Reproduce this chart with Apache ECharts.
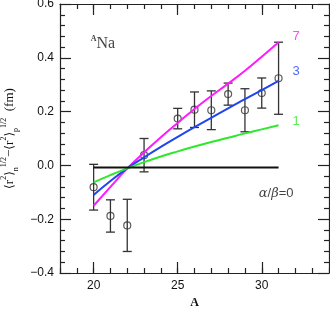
<!DOCTYPE html>
<html>
<head>
<meta charset="utf-8">
<script src="https://cdn.jsdelivr.net/npm/echarts@6/dist/echarts.min.js"></script>
<style>
html,body{margin:0;padding:0;background:#fff;}
#wrap{position:relative;width:330px;height:310px;}
#c,#f{position:absolute;left:0;top:0;width:330px;height:310px;}
#f{pointer-events:none;}
</style>
</head>
<body>
<div id="wrap"><div id="c"></div><div id="f"></div></div>
<script>
// ---- data ----
const pointA = [20, 21, 22, 23, 25, 26, 27, 28, 29, 30, 31];
const pointVal = [-0.081, -0.188, -0.223, 0.038, 0.174, 0.207, 0.205, 0.265, 0.205, 0.269, 0.324];
const pointErr = [0.085, 0.060, 0.097, 0.062, 0.038, 0.066, 0.072, 0.041, 0.080, 0.056, 0.134];

const curveA = [20, 21, 22, 23, 24, 25, 26, 27, 28, 29, 30, 31];
const curve7 = [-0.150, -0.080, -0.011, 0.048, 0.105, 0.158, 0.210, 0.258, 0.304, 0.352, 0.404, 0.458];
const curve3 = [-0.110, -0.058, -0.011, 0.030, 0.069, 0.106, 0.142, 0.177, 0.212, 0.246, 0.280, 0.314];
const curve1 = [-0.063, -0.036, -0.011, 0.012, 0.033, 0.052, 0.070, 0.087, 0.103, 0.119, 0.134, 0.149];

const flatA = [20, 31];
const flatVal = [-0.008, -0.008];

const xMajorTicks = [20, 25, 30];
const xMinorTicks = [18, 19, 20, 21, 22, 23, 24, 25, 26, 27, 28, 29, 30, 31, 32, 33, 34];

const curveLabels = ['7', '3', '1'];
const curveLabelA = [32.05, 32.05, 32.05];
const curveLabelVal = [0.481, 0.348, 0.162];

const colMag = '#ff1aff', colBlue = '#1f45f0', colGreen = '#2ee82e';
const curveColors = [colMag, colBlue, colGreen];

const zip = (xs, ys) => xs.map((x, i) => [x, ys[i]]);
const gridBox = {left: 60, right: 1, top: 4, bottom: 37, outerBoundsMode: 'none'};

// ---------- main chart: data, labels, names ----------
const chart = echarts.init(document.getElementById('c'));
const xLabelAx = {
  type: 'value', position: 'bottom', min: 18, max: 34, interval: 1,
  axisLine: {show: false, onZero: false}, axisTick: {show: false},
  axisLabel: {show: true, customValues: xMajorTicks, margin: 7,
    fontFamily: 'Liberation Sans', fontSize: 12, color: '#111'},
  splitLine: {show: false},
  name: 'A', nameLocation: 'middle', nameGap: 21,
  nameTextStyle: {fontFamily: 'Liberation Serif', fontWeight: 'bold', fontSize: 12, color: '#111'}
};
const yLabelAx = {
  type: 'value', position: 'left', min: -0.4, max: 0.6, interval: 0.2,
  axisLine: {show: false, onZero: false}, axisTick: {show: false},
  axisLabel: {show: true, margin: 6, fontFamily: 'Liberation Sans', fontSize: 12, color: '#111',
    formatter: v => v.toFixed(1).replace('-', '\u2212')},
  splitLine: {show: false},
  name: '{k|\u27e8}{t|r}{s|2}{k|\u27e9}{b|n}{s|1/2}{t|\u2212}{k|\u27e8}{t|r}{s|2}{k|\u27e9}{b|p}{s|1/2}{t|  (fm)}',
  nameLocation: 'middle', nameGap: 39, nameRotate: 90,
  nameTextStyle: {
    rich: {
      k: {fontFamily: 'DejaVu Sans', fontSize: 12, lineHeight: 20, color: '#111', verticalAlign: 'middle'},
      t: {fontFamily: 'Liberation Serif', fontSize: 13, lineHeight: 20, color: '#111', verticalAlign: 'middle'},
      s: {fontFamily: 'Liberation Serif', fontSize: 8, color: '#111', verticalAlign: 'top'},
      b: {fontFamily: 'Liberation Serif', fontSize: 8, color: '#111', verticalAlign: 'bottom'}
    }
  }
};

const series = [];
[curve7, curve3, curve1].forEach((c, i) => {
  series.push({type: 'line', data: zip(curveA, c), smooth: true, showSymbol: false,
    lineStyle: {color: curveColors[i], width: 2}});
});
series.push({type: 'line', data: zip(flatA, flatVal), showSymbol: false,
  lineStyle: {color: '#111', width: 2}});
series.push({
  type: 'custom',
  data: pointA.map((a, i) => [a, pointVal[i], pointErr[i]]),
  renderItem: function (params, api) {
    const x = api.value(0), y = api.value(1), e = api.value(2);
    const t = api.coord([x, y + e]), b = api.coord([x, y - e]);
    const st = {stroke: '#333', lineWidth: 1.3};
    const w = 4.5;
    return {type: 'group', children: [
      {type: 'line', shape: {x1: t[0], y1: t[1], x2: b[0], y2: b[1]}, style: st},
      {type: 'line', shape: {x1: t[0] - w, y1: t[1], x2: t[0] + w, y2: t[1]}, style: st},
      {type: 'line', shape: {x1: b[0] - w, y1: b[1], x2: b[0] + w, y2: b[1]}, style: st}
    ]};
  }
});
series.push({type: 'scatter', data: zip(pointA, pointVal), symbol: 'circle', symbolSize: 7,
  itemStyle: {color: 'rgba(0,0,0,0)', borderColor: '#333', borderWidth: 1.2}});
series.push({type: 'scatter', symbolSize: 0,
  data: curveLabels.map((t, i) => ({value: [curveLabelA[i], curveLabelVal[i]],
    label: {show: true, position: 'inside', formatter: t, color: curveColors[i],
      fontFamily: 'Liberation Sans', fontSize: 13}}))});
series.push({type: 'scatter', symbolSize: 0,
  data: [
    {value: [30.86, -0.104], label: {show: true, position: 'inside',
      formatter: '{i|\u03b1}{n|/}{i|\u03b2}{n|=0}',
      rich: {i: {fontFamily: 'DejaVu Serif', fontStyle: 'italic', fontSize: 13, color: '#111'},
             n: {fontFamily: 'Liberation Sans', fontSize: 13, color: '#111'}}}},
    {value: [20.55, 0.452], label: {show: true, position: 'inside',
      formatter: '{s|A}{n|Na}',
      rich: {s: {fontFamily: 'Liberation Serif', fontWeight: 'bold', fontSize: 8, color: '#111', verticalAlign: 'top'},
             n: {fontFamily: 'Liberation Serif', fontSize: 16, lineHeight: 18, color: '#111'}}}}
  ]});

chart.setOption({
  animation: false,
  grid: gridBox,
  xAxis: xLabelAx,
  yAxis: yLabelAx,
  series: series
});

// ---------- overlay chart: frame and ticks ----------
const frame = echarts.init(document.getElementById('f'));
const axisCol = '#222';
function xTickAx(pos, major) {
  return {
    type: 'value', position: pos, min: 18, max: 34, interval: 1,
    axisLine: {show: major, onZero: false, lineStyle: {color: axisCol, width: 1.2}},
    axisTick: {show: true, inside: true, length: major ? 11 : 5,
      customValues: major ? xMajorTicks : xMinorTicks,
      lineStyle: {color: axisCol, width: 1.2}},
    axisLabel: {show: false},
    splitLine: {show: false}
  };
}
function yTickAx(pos) {
  return {
    type: 'value', position: pos, min: -0.4, max: 0.6, interval: 0.2,
    axisLine: {show: true, onZero: false, lineStyle: {color: axisCol, width: 1.2}},
    axisTick: {show: true, inside: true, length: 11, lineStyle: {color: axisCol, width: 1.2}},
    minorTick: {show: true, splitNumber: 5, length: 5, lineStyle: {color: axisCol, width: 1.2}},
    axisLabel: {show: false},
    splitLine: {show: false}, minorSplitLine: {show: false}
  };
}
frame.setOption({
  animation: false,
  backgroundColor: 'transparent',
  grid: gridBox,
  xAxis: [xTickAx('bottom', true), xTickAx('bottom', false), xTickAx('top', true), xTickAx('top', false)],
  yAxis: [yTickAx('left'), yTickAx('right')],
  series: [{type: 'line', data: [], showSymbol: false}]
});
</script>
</body>
</html>
